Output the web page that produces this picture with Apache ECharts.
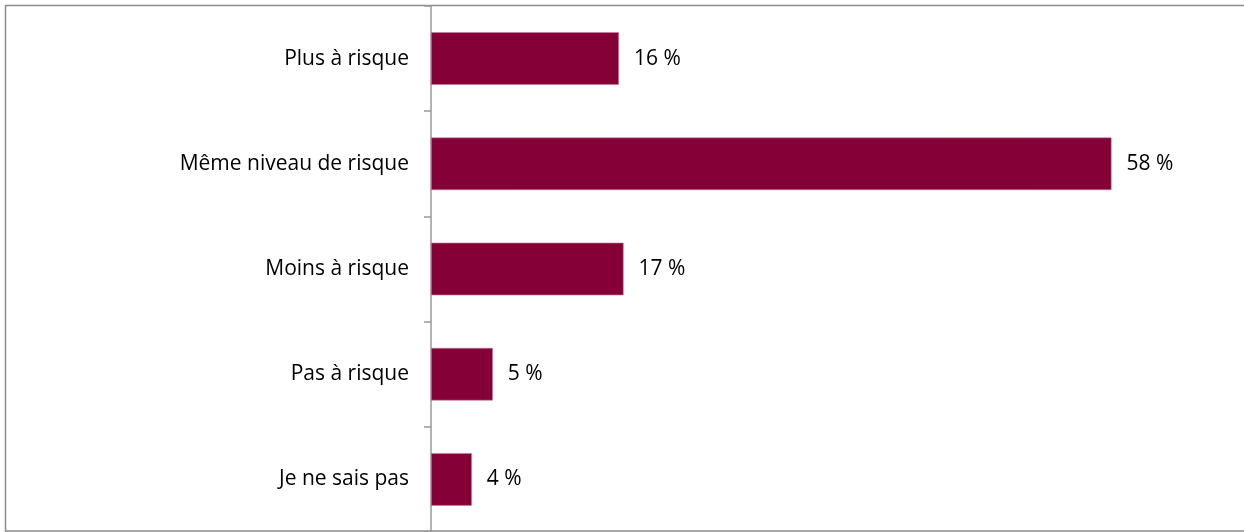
<!DOCTYPE html>
<html><head><meta charset="utf-8">
<script src="https://cdn.jsdelivr.net/npm/echarts@6/dist/echarts.min.js"></script>
<style>html,body{margin:0;padding:0;background:#fff;}#c{width:1244px;height:532px;}</style>
</head><body><div id="c"></div>
<script>
const categories = ["Plus à risque", "Même niveau de risque", "Moins à risque", "Pas à risque", "Je ne sais pas"];
const values = [16.1, 58.3, 16.5, 5.3, 3.5];
const valueLabels = ["16 %", "58 %", "17 %", "5 %", "4 %"];

const FONT = "Open Sans";
const chart = echarts.init(document.getElementById('c'), null, {renderer: 'canvas'});
chart.setOption({
  animation: false,
  backgroundColor: '#fff',
  graphic: [{
    type: 'rect', silent: true, z: 0,
    shape: {x: 5.5, y: 5.5, width: 1300, height: 525.5},
    style: {fill: 'none', stroke: '#8c8c8c', lineWidth: 1.5}
  }],
  grid: {left: 431, top: 6, right: 0, height: 526, containLabel: false},
  xAxis: {type: 'value', min: 0, max: 69.65, show: false},
  yAxis: {
    type: 'category', inverse: true, data: categories,
    axisLine: {show: true, lineStyle: {color: '#999', width: 1.5}},
    axisTick: {show: true, length: 7, lineStyle: {color: '#999', width: 1.5}},
    axisLabel: {margin: 22, color: '#000', fontFamily: FONT, fontSize: 21, padding: [3, 0, 0, 0]}
  },
  series: [{
    type: 'bar', data: values, barWidth: '50%',
    itemStyle: {color: '#840036', borderColor: '#c9809c', borderWidth: 0.6},
    label: {
      show: true, position: 'right', distance: 15, color: '#000',
      fontFamily: FONT, fontSize: 21, padding: [3, 0, 0, 0],
      formatter: p => valueLabels[p.dataIndex]
    }
  }]
});
</script></body></html>
